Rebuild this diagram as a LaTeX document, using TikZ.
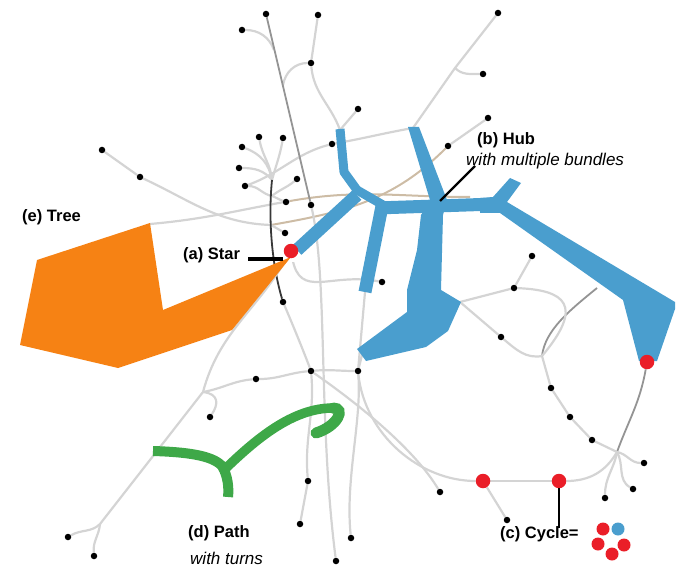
\documentclass[tikz,border=0pt]{standalone}
\usepackage{fontspec}
\setmainfont{Liberation Sans}
\definecolor{hub}{RGB}{74,158,206}
\definecolor{treec}{RGB}{246,130,20}
\definecolor{pathg}{RGB}{62,168,72}
\definecolor{cyc}{RGB}{234,30,40}
\definecolor{tanc}{RGB}{205,188,165}
\pgfdeclarelayer{edges}
\pgfdeclarelayer{shapes}
\pgfsetlayers{edges,shapes,main}
\tikzset{
 dot/.style={circle,fill=black,inner sep=0,minimum size=6.5pt},
 rnode/.style={circle,fill=cyc,inner sep=0,minimum size=14.5pt},
 lnode/.style={circle,inner sep=0,minimum size=13pt},
 ln/.style={draw=black!17,line width=2.2pt},
 lnm/.style={draw=black!42,line width=1.8pt},
 lnd/.style={draw=black!78,line width=1.8pt},
 lnt/.style={draw=tanc,line width=2pt},
 hubband/.style={draw=hub},
 lbl/.style={font=\bfseries\fontsize{16.5}{18}\selectfont,inner sep=0,anchor=west},
 sublbl/.style={font=\itshape\fontsize{17}{19}\selectfont,inner sep=0,anchor=west},
 pointer/.style={draw=black,line width=2.2pt},
}
\begin{document}
\begin{tikzpicture}[x=1pt,y=-1pt]
\useasboundingbox (0,0) rectangle (679,569);
% ---- dots ----
\node[dot] (n1) at (266,14) {};
\node[dot] (n2) at (318,15) {};
\node[dot] (n3) at (242,30) {};
\node[dot] (n4) at (311,63) {};
\node[dot] (n5) at (498,13) {};
\node[dot] (n6) at (483,74) {};
\node[dot] (n7) at (358,109) {};
\node[dot] (n8) at (488,118) {};
\node[dot] (n9) at (448,146) {};
\node[dot] (n10) at (102,150) {};
\node[dot] (n11) at (140,177) {};
\node[dot] (n12) at (259,137) {};
\node[dot] (n13) at (283,138) {};
\node[dot] (n14) at (242,147) {};
\node[dot] (n15) at (239,168) {};
\node[dot] (n16) at (245,186) {};
\node[dot] (n17) at (297,179) {};
\node[dot] (n18) at (286,202) {};
\node[dot] (n19) at (311,205) {};
\node[dot] (n20) at (285,233) {};
\node[dot] (n21) at (332,144) {};
\node[dot] (n22) at (532,256) {};
\node[dot] (n23) at (514,288) {};
\node[dot] (n24) at (501,337) {};
\node[dot] (n25) at (382,282) {};
\node[dot] (n26) at (551,388) {};
\node[dot] (n27) at (570,417) {};
\node[dot] (n28) at (592,440) {};
\node[dot] (n29) at (644,463) {};
\node[dot] (n30) at (633,489) {};
\node[dot] (n31) at (605,498) {};
\node[dot] (n32) at (507,520) {};
\node[dot] (n33) at (440,492) {};
\node[dot] (n34) at (283,302) {};
\node[dot] (n35) at (256,379) {};
\node[dot] (n36) at (311,371) {};
\node[dot] (n37) at (358,371) {};
\node[dot] (n38) at (210,417) {};
\node[dot] (n39) at (308,481) {};
\node[dot] (n40) at (300,524) {};
\node[dot] (n41) at (351,538) {};
\node[dot] (n42) at (336,561) {};
\node[dot] (n43) at (68,537) {};
\node[dot] (n44) at (94,556) {};
% ---- red nodes ----
\begin{pgfonlayer}{shapes}
\fill[white] (282,242) rectangle (301,262);
\end{pgfonlayer}
\node[rnode] (ra) at (291,251) {};
\node[rnode] (rb) at (483,481) {};
\node[rnode] (rc) at (559,481) {};
\node[rnode] (rd) at (647,362) {};
% ---- junctions ----
\coordinate (j1) at (274,50);
\coordinate (j2) at (283,85);
\coordinate (js) at (272,180);
\coordinate (js2) at (272,196);
\coordinate (jx) at (271,225);
\coordinate (jh) at (290,201);
\coordinate (j5) at (455,68);
\coordinate (bt) at (413,128);
\coordinate (lt) at (340,130);
\coordinate (tr) at (150,224);
\coordinate (rr) at (470,197);
\coordinate (j6) at (617,452);
\coordinate (j7) at (542,356);
\coordinate (bd) at (597,288);
\coordinate (pc) at (460,302);
\coordinate (nb) at (365,292);
\coordinate (pb) at (362,355);
\coordinate (L2) at (203,392);
\coordinate (L3) at (100,524);
% ---- connectors ----
\begin{pgfonlayer}{edges}
\draw[ln] (n3) to[out=0,in=110] (j1);
\draw[ln] (n2) -- (n4);
\draw[ln] (n4) to[out=180,in=80] (j2);
\draw[ln] (n4) to[out=-85,in=110] (lt);
\draw[ln] (n7) -- (lt);
\draw[ln] (n5) -- (j5) -- (bt);
\draw[ln] (j5) to[out=-45,in=180] (n6);
\draw[ln] (n8) -- (n9);
\draw[lnt] (n9) to[out=225,in=10] (jx);
\draw[ln] (n10) -- (n11);
\draw[ln] (n11) to[out=-25,in=178] (jx) -- (n20);
\draw[ln] (tr) to[out=5,in=190] (jh);
\draw[lnt] (jh) to[out=10,in=180] (rr);
\draw[ln] (n16) to[out=20,in=195] (n21);
\draw[ln] (n21) to[out=10,in=190] (bt);
\draw[lnm] (n1) -- (n19);
\draw[ln] (n14) to[out=-20,in=100] (js);
\draw[ln] (n12) to[out=-80,in=95] (js);
\draw[ln] (n13) to[out=-100,in=75] (js);
\draw[ln] (n15) to[out=0,in=130] (js);
\draw[ln] (n16) to[out=0,in=170] (js2);
\draw[ln] (n17) to[out=220,in=40] (js2);
\draw[ln] (n18) to[out=160,in=-20] (js2);
\draw[lnd] (js) .. controls (268,220) and (272,265) .. (n34);
% centre
\draw[ln] (ra) to[out=240,in=75] (L2);
\draw[ln] (n35) to[out=185,in=10] (L2);
\draw[ln] (L2) .. controls (220,394) and (218,405) .. (n38);
\draw[ln] (L2) .. controls (185,415) and (150,460) .. (L3);
\draw[ln] (L3) to[out=225,in=30] (n43);
\draw[ln] (L3) to[out=265,in=95] (n44);
\draw[ln] (n34) .. controls (295,330) and (305,355) .. (n36);
\draw[ln] (n35) to[out=0,in=185] (n36);
\draw[ln] (n36) to[out=5,in=180] (n37);
\draw[ln] (n36) to[out=-85,in=95] (n39);
\draw[ln] (n39) -- (n40);
\draw[ln] (n19) .. controls (328,280) and (318,420) .. (n42);
\draw[ln] (n37) .. controls (362,420) and (345,480) .. (n41);
\draw[ln] (n36) .. controls (360,405) and (415,450) .. (n33);
\draw[ln] (nb) -- (n37);
\draw[ln] (pb) -- (n37);
\draw[ln] (ra) .. controls (300,300) and (330,272) .. (n25);
% cycle
\draw[ln] (n37) .. controls (365,435) and (420,481) .. (rb);
\draw[ln] (rb) -- (rc);
\draw[ln] (rb) -- (n32);
\draw[ln] (rc) to[out=0,in=240] (j6);
\draw[lnm] (rd) to[out=-100,in=70] (j6);
\draw[ln] (j6) to[out=-10,in=180] (n29);
\draw[ln] (j6) to[out=-60,in=150] (n30);
\draw[ln] (j6) to[out=-100,in=90] (n31);
\draw[ln] (n26) -- (n27) -- (n28) -- (j6);
\draw[ln] (j7) -- (n26);
\draw[lnm] (bd) .. controls (570,310) and (545,330) .. (j7);
\draw[ln] (n24) to[out=-40,in=190] (j7);
\draw[ln] (n22) -- (n23);
\draw[ln] (n23) .. controls (565,290) and (585,305) .. (j7);
\draw[ln] (n23) -- (pc);
\draw[ln] (pc) -- (n24);
\end{pgfonlayer}
% ---- shapes ----
\begin{pgfonlayer}{shapes}
% tree
\fill[treec] (37,260) -- (150,223) -- (163,310) -- (291,257) -- (232,330) -- (118,368) -- (20,345) -- cycle;
% hub
\draw[hubband,line width=13pt] (297,250) -- (357,195);
\draw[hubband,line width=9pt,line join=round] (340,129) -- (344,172) -- (357,190) -- (383,205);
\draw[hubband,line width=13pt] (376,208) -- (496,204);
\draw[hubband,line width=13pt] (382,206) -- (365,292);
\fill[hub] (408,127) -- (419,127) -- (447,200) -- (443,215) -- (441,290) -- (461,302) -- (448,331) -- (426,347) -- (366,361) -- (357,349) -- (407,312) -- (407,290) -- (417,250) -- (421,215) -- (430,200) -- cycle;
\fill[hub] (480,198) -- (493,197) -- (510,178) -- (521,183) -- (507,202) -- (675,302) -- (675,309) -- (657,361) -- (639,361) -- (623,300) -- (500,213) -- (480,213) -- cycle;
% path
\draw[pathg,line width=10pt] (153,451) .. controls (185,452) and (212,455) .. (222,466) .. controls (228,476) and (229,488) .. (228,497);
\draw[pathg,line width=9.5pt] (224,470) .. controls (255,440) and (292,408) .. (333,408);
\draw[pathg,line width=11pt,line cap=round] (333,408) .. controls (346,408) and (338,426) .. (316,433);
\end{pgfonlayer}
% ---- legend of cycle ----
\node[lnode,fill=cyc] (c1) at (603,529) {};
\node[lnode,fill=hub] (c2) at (618,529) {};
\node[lnode,fill=cyc] (c3) at (598,544) {};
\node[lnode,fill=cyc] (c4) at (624,545) {};
\node[lnode,fill=cyc] (c5) at (612,554) {};
% ---- labels ----
\node[lbl] (te) at (22,217) {(e) Tree};
\node[lbl] (ta) at (183,255) {(a) Star};
\node[lbl] (tb) at (477,140) {(b) Hub};
\node[sublbl] (tb2) at (466,161) {with multiple bundles};
\node[lbl] (tc) at (500,534) {(c) Cycle=};
\node[lbl] (td) at (188,533) {(d) Path};
\node[sublbl] (td2) at (190,558) {with turns};
\coordinate (pa1) at (248,259);
\coordinate (pa2) at (283,259);
\coordinate (pb1) at (440,201);
\coordinate (pb2) at (475,166);
\coordinate (pcc) at (559,528);
\draw[pointer,line width=3.5pt] (pa1) -- (pa2);
\draw[pointer] (pb1) -- (pb2);
\draw[pointer,line width=2.5pt] (rc) -- (pcc);
\end{tikzpicture}
\end{document}
